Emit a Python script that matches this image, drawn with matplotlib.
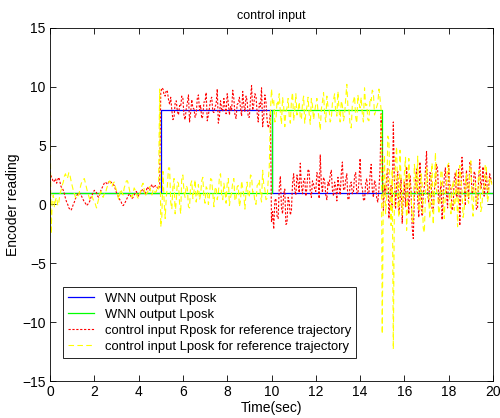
import numpy as np
import matplotlib
matplotlib.use('Agg')
import matplotlib.pyplot as plt

plt.rcParams['font.family'] = ['Liberation Sans', 'DejaVu Sans']

# WNN outputs (step signals), breakpoints in seconds
wnn_t = [0, 5, 5, 10, 10, 15, 15, 20]
wnn_r = [1, 1, 8, 8, 1, 1, 1, 1]
wnn_l = [1, 1, 1, 1, 8, 8, 1, 1]

red_0_5 = [2.8, 2.4, 2.2, 1.9, 2.0, 2.2, 1.8, 2.1, 2.3, 1.9,
           1.5, 1.4, 1.2, 0.9, 0.5, 0.2, 0.0, -0.3, -0.4, -0.5,
           -0.3, 0.0, 0.2, 0.5, 0.7, 0.9, 1.0, 0.9, 0.8, 0.6,
           0.4, 0.2, 0.1, -0.1, 0.0, 0.1, 0.3, 0.6, 0.8, 1.0,
           1.2, 1.1, 1.0, 0.7, 0.6, 0.9, 1.2, 1.4, 1.6, 1.8,
           1.9, 1.8, 1.7, 1.9, 2.0, 1.9, 1.8, 1.7, 1.6, 1.3,
           1.0, 0.8, 0.6, 0.4, 0.3, 0.0, -0.1, 0.0, 0.2, 0.4,
           0.6, 0.8, 0.9, 0.7, 0.5, 0.6, 0.8, 1.0, 1.1, 0.9,
           0.7, 0.9, 1.0, 1.2, 1.3, 1.1, 0.9, 1.2, 1.5, 1.3,
           1.2, 1.5, 1.7, 1.5, 1.4, 1.6, 1.6, 1.4, 1.3, 1.6]
red_5_10 = [9.5, 9.9, 9.8, 9.3, 9.2, 9.7, 9.6, 8.9, 8.5, 9.1,
            8.0, 7.2, 7.4, 8.6, 8.8, 7.9, 7.6, 8.4, 8.3, 9.2,
            9.0, 7.5, 7.2, 8.1, 8.6, 9.3, 7.0, 7.8, 8.9, 8.2,
            8.1, 7.4, 7.7, 9.0, 9.3, 8.0, 8.4, 7.3, 7.5, 8.7,
            8.7, 9.5, 7.1, 7.6, 8.2, 8.9, 9.1, 7.9, 7.8, 8.3,
            8.5, 9.8, 6.9, 7.5, 8.8, 8.1, 7.9, 9.0, 8.3, 7.7,
            9.4, 8.6, 7.6, 8.3, 8.0, 9.7, 9.0, 7.6, 7.3, 8.5,
            8.6, 9.1, 8.2, 7.5, 9.6, 8.4, 7.9, 9.2, 8.8, 7.4,
            7.4, 8.9, 10.1, 8.0, 8.5, 9.4, 9.2, 7.8, 7.0, 8.6,
            8.3, 9.9, 6.6, 7.4, 9.3, 8.7, 7.2, 6.5, 6.8, 7.9]
red_10_15 = [-1.5, -0.6, -2.1, 0.3, 0.5, -1.0, -1.2, 1.4, 2.4, -0.3,
             -0.8, 0.9, 1.3, -1.7, -1.6, 0.6, 0.2, -0.9, -0.5, 1.8,
             2.6, 1.2, 0.8, 2.5, 1.9, 1.0, 3.5, 1.6, 0.9, 2.1,
             2.2, 0.7, 1.4, 3.0, 2.8, 1.1, 0.6, 2.0, 1.7, 1.3,
             1.1, 2.7, 2.4, 0.5, 4.2, 1.8, 1.0, 2.3, 2.0, 0.8,
             0.4, 1.9, 1.6, 2.5, 2.9, 1.2, 0.7, 1.9, 1.5, 0.3,
             2.3, 1.5, 0.8, 2.6, 3.6, 1.3, 1.2, 2.1, 2.6, 0.4,
             0.5, 1.7, 1.9, 0.9, 1.1, 2.4, 2.7, 1.0, 0.9, 2.0,
             3.9, 1.6, 1.4, 0.4, 0.3, 1.8, 2.2, 0.9, 1.0, 2.5,
             3.4, 1.2, 0.6, 2.0, 1.8, 0.5, 0.2, 1.3, 3.0, 7.7]
red_15_20 = [4.2, -0.5, 1.6, 0.8, 2.4, 3.1, -1.2, 0.5, 1.6, -0.3,
             7.0, 2.0, -0.4, 1.8, 2.8, -0.9, 0.3, 2.2, -1.6, 0.7,
             1.9, -0.2, 3.2, 1.0, -0.8, 2.5, 1.2, -1.9, -2.9, 0.6,
             2.1, 3.0, 0.4, -1.1, 3.6, 1.3, -1.0, 0.8, 1.5, 2.9,
             4.5, 0.9, 0.2, 2.7, 2.6, -0.5, -0.6, 1.2, 1.8, 3.4,
             3.0, 0.1, 0.6, 1.9, -1.3, 0.4, 2.3, 3.1, 0.9, -0.3,
             3.3, 1.7, 1.4, -0.5, -0.2, 2.2, 2.7, 0.6, 0.8, 3.0,
             -1.8, 1.1, 4.0, 2.4, 1.6, -0.1, 2.9, 1.8, 0.5, 3.6,
             3.4, 0.9, 1.1, 2.8, 2.5, -0.4, -0.4, 2.0, 3.8, 1.3,
             1.9, 3.2, 0.7, 1.5, 2.8, 1.0, 1.3, 2.6, 2.2, 1.7]

# control input Lposk, sampled every 0.05 s
yel_0_5 = [8.0, -2.5, 0.3, 0.8, -0.2, 0.4, 0.6, -0.1, 0.2, 0.9,
           1.2, 1.6, 1.9, 2.4, 2.6, 2.2, 2.3, 2.7, 2.5, 2.0,
           1.6, 1.2, 0.9, 0.6, 0.5, 0.7, 0.8, 1.3, 1.7, 2.0,
           2.1, 2.2, 1.8, 1.4, 1.0, 0.7, 0.4, 0.6, 0.7, 0.4,
           0.3, 0.0, -0.3, 0.1, 0.5, 0.9, 1.1, 0.8, 0.6, 0.9,
           0.9, 1.3, 1.6, 1.9, 2.0, 1.7, 1.5, 1.8, 1.9, 1.5,
           1.2, 0.8, 0.4, 0.9, 1.3, 1.0, 0.8, 1.4, 1.7, 2.0,
           2.0, 1.6, 1.1, 0.8, 0.6, 1.0, 1.4, 1.2, 0.9, 0.6,
           0.5, 0.9, 1.2, 1.6, 1.8, 1.3, 0.7, 0.9, 1.0, 1.3,
           1.5, 1.1, 0.8, 1.2, 1.3, 1.0, 1.1, 1.5, 1.3, 9.8]
yel_5_10 = [-1.9, -1.0, 2.8, 0.4, -1.2, 0.6, 1.6, 3.1, 3.1, 0.2,
            -0.4, 1.5, 2.2, -0.8, 0.3, 1.9, 1.8, 0.1, -0.8, 2.4,
            2.5, 1.0, 0.6, 1.6, 1.4, -0.2, -0.3, 1.7, 2.0, 0.5,
            1.1, 2.1, 0.2, 0.9, 1.7, 0.4, 0.8, 2.0, 2.3, 0.6,
            0.1, 1.5, 1.3, 0.0, 0.7, 2.2, 2.1, 0.9, -0.2, 1.3,
            1.5, 0.4, 0.9, 2.4, 2.6, 0.7, 0.4, 1.8, 1.2, 0.1,
            1.8, 2.2, -0.1, 0.6, 1.0, 1.9, 2.2, 0.3, 0.5, 1.5,
            1.6, -0.2, 0.3, 2.0, 1.4, 0.8, -0.4, 1.1, 1.9, 0.7,
            0.6, 2.5, 2.4, 1.0, 1.1, 0.2, 0.0, 1.6, 1.7, 2.1,
            0.8, 0.2, 2.9, 1.7, 1.3, 0.4, 0.5, 2.0, 3.2, 7.8]
yel_10_15 = [9.8, 8.6, 8.9, 7.0, 7.2, 8.8, 8.5, 9.4, 7.8, 6.8,
             9.1, 8.3, 6.6, 7.9, 8.2, 9.0, 7.5, 6.9, 8.8, 9.5,
             7.1, 8.0, 9.4, 7.6, 8.0, 8.7, 7.4, 7.2, 8.6, 9.2,
             6.9, 7.8, 8.3, 9.1, 7.7, 6.8, 9.0, 8.4, 7.2, 7.9,
             8.5, 9.0, 7.9, 7.3, 6.3, 8.1, 8.7, 9.5, 7.6, 7.0,
             9.2, 8.3, 8.1, 7.0, 7.3, 8.6, 8.9, 9.4, 7.8, 7.5,
             9.6, 8.0, 7.0, 8.8, 8.4, 7.1, 7.6, 9.0, 10.2, 8.3,
             8.0, 6.7, 6.5, 8.5, 8.8, 9.2, 7.4, 6.9, 9.3, 8.6,
             8.2, 9.1, 7.7, 7.0, 9.9, 8.4, 8.5, 7.2, 7.1, 9.0,
             8.8, 9.7, 9.5, 7.6, 7.9, 8.3, 8.6, 9.8, 9.0, 8.0]
yel_15_20 = [-11.0, 1.5, 4.2, -0.8, 0.5, 5.8, 5.5, 1.0, -1.8, 3.0,
             -12.3, 0.6, 3.8, 4.9, 0.2, -1.1, 4.6, 2.1, -0.9, 1.2,
             2.7, 4.0, -2.2, 0.8, 3.9, 1.5, 0.8, -1.3, -1.5, 3.4,
             2.4, 0.9, 4.1, -0.4, -0.6, 2.6, 1.9, -2.0, -2.4, 0.7,
             3.1, 2.0, 0.3, -1.2, 2.2, 3.5, -1.7, 0.6, 4.4, 1.1,
             0.9, -0.8, -0.3, 2.9, 2.8, 0.4, -1.2, 1.0, 1.6, 3.3,
             3.5, 0.2, -0.8, 1.4, 2.0, -0.5, 0.4, 3.0, -1.9, 0.8,
             3.3, 2.3, 1.2, -1.1, -0.5, 1.8, 2.6, 0.5, 0.1, 3.1,
             3.7, 0.4, -1.0, 1.7, 1.8, 0.0, 0.6, 2.7, 2.9, -0.6,
             -0.2, 1.5, 1.4, 3.4, 3.2, 0.2, 0.7, 2.3, 2.1, 1.6]

red = red_0_5 + red_5_10 + red_10_15 + red_15_20
yel = yel_0_5 + yel_5_10 + yel_10_15 + yel_15_20
assert len(red) == 400 and len(yel) == 400
dt = 0.05
t = np.arange(len(red)) * dt

fig = plt.figure(figsize=(5, 4.18), dpi=100)
ax = fig.add_axes([0.1, 0.0885, 0.886, 0.845])

ax.plot(wnn_t, wnn_r, color='blue', lw=0.9, label='WNN output Rposk')
ax.plot(wnn_t, wnn_l, color='#00ff00', lw=0.9, label='WNN output Lposk')
ax.plot(t, red, color='red', lw=0.8, dashes=(2, 1.5),
        label='control input Rposk for reference trajectory')
ax.plot(t, yel, color='yellow', lw=0.8, dashes=(5, 3),
        label='control input Lposk for reference trajectory')

ax.set_xlim(0, 20)
ax.set_ylim(-15, 15)
ax.set_xticks(range(0, 21, 2))
ax.set_yticks(range(-15, 16, 5))
ax.tick_params(direction='in', top=True, right=True, length=4, width=0.6,
               labelsize=10, pad=3)
for s in ax.spines.values():
    s.set_linewidth(0.6)

ax.set_title('control input', fontsize=9, pad=6)
ax.set_xlabel('Time(sec)', fontsize=10, labelpad=1)
ax.set_ylabel('Encoder reading', fontsize=10, labelpad=2)

leg = ax.legend(loc='lower left', bbox_to_anchor=(0.029, 0.065),
                borderaxespad=0, fontsize=9.4, fancybox=False, framealpha=1,
                edgecolor='black', handlelength=2.0, labelspacing=0.3,
                borderpad=0.4, handletextpad=0.8)
leg.get_frame().set_linewidth(0.6)

fig.savefig('out.png', dpi=100)
